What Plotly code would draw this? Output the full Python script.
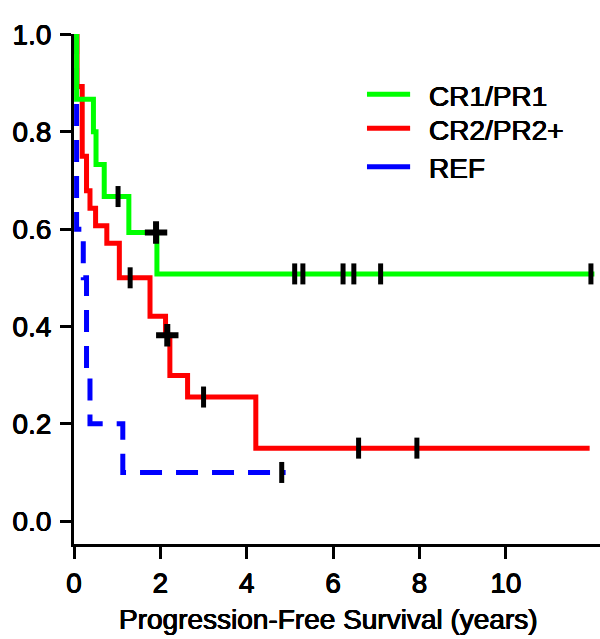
import plotly.graph_objects as go

# Kaplan-Meier step coordinates (time in years, survival probability)
cr1_time = [0, 0.06, 0.45, 0.51, 0.70, 1.27, 1.92, 12.05]
cr1_surv = [1.0, 0.867, 0.800, 0.733, 0.667, 0.593, 0.508, 0.508]
cr1_cens_time = [1.02, 5.11, 5.30, 6.23, 6.48, 7.10, 11.97]
cr1_cens_surv = [0.667, 0.508, 0.508, 0.508, 0.508, 0.508, 0.508]
cr1_cross_time = [1.90]
cr1_cross_surv = [0.593]

cr2_time = [0, 0.07, 0.19, 0.29, 0.37, 0.50, 0.76, 1.05, 1.76, 2.12, 2.22, 2.63, 4.21, 11.94]
cr2_surv = [1.0, 0.893, 0.750, 0.679, 0.643, 0.607, 0.571, 0.500, 0.421, 0.382, 0.299, 0.255, 0.150, 0.150]
cr2_cens_time = [1.30, 3.00, 6.59, 7.94]
cr2_cens_surv = [0.500, 0.255, 0.150, 0.150]
cr2_cross_time = [2.16]
cr2_cross_surv = [0.382]

ref_time = [0, 0.06, 0.215, 0.29, 0.37, 1.13, 4.90]
ref_surv = [1.0, 0.6, 0.5, 0.3, 0.2, 0.1, 0.1]
ref_cens_time = [4.81]
ref_cens_surv = [0.1]

group_names = ["CR1/PR1", "CR2/PR2+", "REF"]
group_colors = ["#00ff00", "#ff0000", "#0000ff"]

x_ticks = [0, 2, 4, 6, 8, 10]
y_ticks = [0.0, 0.2, 0.4, 0.6, 0.8, 1.0]
y_ticktext = ["0.0", "0.2", "0.4", "0.6", "0.8", "1.0"]

FONT = "Liberation Sans, Arial, sans-serif"
HEAVY = "0.4px 0 0 #000, -0.4px 0 0 #000, 0 0.4px 0 #000, 0 -0.4px 0 #000"

fig = go.Figure()

# drawn bottom-up: REF, then CR2/PR2+, then CR1/PR1 on top
curves = [
    (group_names[2], ref_time, ref_surv, group_colors[2], "22px,14px"),
    (group_names[1], cr2_time, cr2_surv, group_colors[1], "solid"),
    (group_names[0], cr1_time, cr1_surv, group_colors[0], "solid"),
]
for name, t, s, color, dash in curves:
    fig.add_trace(go.Scatter(
        x=t, y=s, mode="lines", name=name, showlegend=False,
        line=dict(color=color, width=5, shape="hv", dash=dash),
    ))

# censoring ticks
for t, s in [(cr1_cens_time, cr1_cens_surv), (cr2_cens_time, cr2_cens_surv),
             (ref_cens_time, ref_cens_surv)]:
    fig.add_trace(go.Scatter(
        x=t, y=s, mode="markers", showlegend=False, hoverinfo="skip",
        marker=dict(symbol="line-ns", size=15, color="black",
                    line=dict(color="black", width=5)),
    ))
for t, s in [(cr1_cross_time, cr1_cross_surv), (cr2_cross_time, cr2_cross_surv)]:
    fig.add_trace(go.Scatter(
        x=t, y=s, mode="markers", showlegend=False, hoverinfo="skip",
        marker=dict(symbol="cross-thin", size=16, color="black",
                    line=dict(color="black", width=6)),
    ))

# legend key: short solid line plus label for each group
legend_x0, legend_x1, legend_text_x = 0.557, 0.639, 0.672
legend_rows = [0.8818, 0.8151, 0.7398]
shapes = []
annotations = []
for name, color, yy in zip(group_names, group_colors, legend_rows):
    shapes.append(dict(type="line", xref="paper", yref="paper",
                       x0=legend_x0, x1=legend_x1, y0=yy, y1=yy,
                       line=dict(color=color, width=5)))
    annotations.append(dict(text=name, xref="paper", yref="paper",
                            x=legend_text_x, y=yy - 0.004, xanchor="left",
                            yanchor="middle", showarrow=False,
                            font=dict(size=28, family=FONT, color="black",
                                      shadow=HEAVY)))

annotations.append(dict(
    text="Progression-Free Survival (years)", xref="paper", yref="paper",
    x=0.483, y=-0.149, xanchor="center", yanchor="middle", showarrow=False,
    font=dict(size=28, family=FONT, color="black", shadow=HEAVY),
))

fig.update_layout(
    width=600, height=639,
    margin=dict(l=74, r=0, t=34, b=95),
    paper_bgcolor="white", plot_bgcolor="white",
    font=dict(family=FONT, color="black"),
    showlegend=False,
    shapes=shapes,
    annotations=annotations,
    xaxis=dict(
        range=[0, 12.18], tickvals=x_ticks, ticks="outside", ticklen=12,
        tickwidth=2.5, tickcolor="black", showline=True, linecolor="black",
        linewidth=3, showgrid=False, zeroline=False,
        tickfont=dict(size=28, family=FONT, color="black", shadow=HEAVY),
    ),
    yaxis=dict(
        range=[-0.047, 1.001], tickvals=y_ticks, ticktext=y_ticktext,
        ticks="outside", ticklen=11, tickwidth=2.5, tickcolor="black",
        showline=True, linecolor="black", linewidth=3, showgrid=False,
        zeroline=False, ticklabelstandoff=3,
        tickfont=dict(size=28, family=FONT, color="black", shadow=HEAVY),
    ),
)

fig.write_html("out.html")
